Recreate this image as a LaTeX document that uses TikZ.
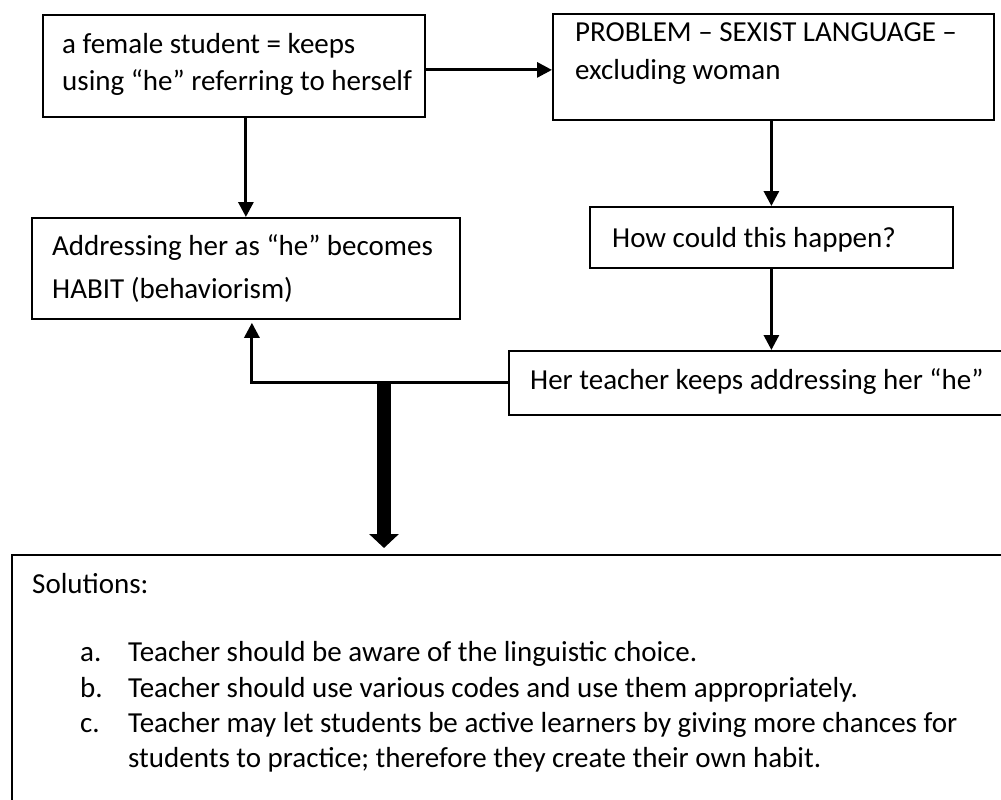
\documentclass[tikz,border=0pt]{standalone}
\usepackage{fontspec}
\setmainfont{Carlito}
\usetikzlibrary{arrows.meta}
\begin{document}
\begin{tikzpicture}[x=1pt,y=-1pt,
  box/.style={draw=black, line width=1.8pt, anchor=north west, inner sep=0pt},
  txt/.style={anchor=base west, inner sep=0pt, font=\fontsize{29}{34}\selectfont},
  arr/.style={line width=3pt, -{Triangle[width=15pt,length=15pt]}},
  bigarr/.style={line width=14pt, -{Triangle[width=29pt,length=14pt]}}
]
\useasboundingbox (0,0) rectangle (1001,800);
\clip (0,0) rectangle (1001,800);
\fill[white] (0,0) rectangle (1001,800);

% boxes
\node[box, minimum width=382pt, minimum height=102pt] (b1) at (42,14) {};
\node[box, minimum width=441pt, minimum height=106pt] (b2) at (552,13) {};
\node[box, minimum width=428pt, minimum height=101pt] (b3) at (31,217) {};
\node[box, minimum width=363pt, minimum height=61pt] (b4) at (589,206) {};
\node[box, minimum width=510pt, minimum height=64pt] (b5) at (508,350) {};
\node[box, minimum width=1010pt, minimum height=260pt] (b6) at (11,554) {};

% texts
\node[txt] (t1a) at (62,54) {a female student = keeps};
\node[txt] (t1b) at (62,91) {using “he” referring to herself};
\node[txt] (t2a) at (575,42) {PROBLEM – SEXIST LANGUAGE –};
\node[txt] (t2b) at (575,80) {excluding woman};
\node[txt] (t3a) at (52,255) {Addressing her as “he” becomes};
\node[txt] (t3b) at (52,298) {HABIT (behaviorism)};
\node[txt] (t4) at (612,247) {How could this happen?};
\node[txt] (t5) at (530,389) {Her teacher keeps addressing her “he”};
\node[txt] (t6) at (32,593) {Solutions:};
\node[txt] (la) at (80,661) {a.};
\node[txt] (ia) at (128,661) {Teacher should be aware of the linguistic choice.};
\node[txt] (lb) at (80,697) {b.};
\node[txt] (ib) at (128,697) {Teacher should use various codes and use them appropriately.};
\node[txt] (lc) at (80,732) {c.};
\node[txt] (ic) at (128,732) {Teacher may let students be active learners by giving more chances for};
\node[txt] (id) at (128,767) {students to practice; therefore they create their own habit.};

% connectors
\draw[arr] ([yshift=-4pt]b1.east) -- ([yshift=-4pt]b1.east -| b2.west);
\draw[arr] (b1.south -| b3.north) -- (b3.north);
\draw[arr] (b2.south -| b4.north) -- (b4.north);
\draw[arr] (b4.south) -- (b4.south |- b5.north);
\draw[arr, shorten >=3pt] (b5.west) -| ([xshift=6pt]b3.south);
\path (b5.west) ++(-124pt,0) coordinate (jn);
\draw[bigarr, shorten >=6pt] (jn) -- (jn |- b6.north);
\end{tikzpicture}
\end{document}
